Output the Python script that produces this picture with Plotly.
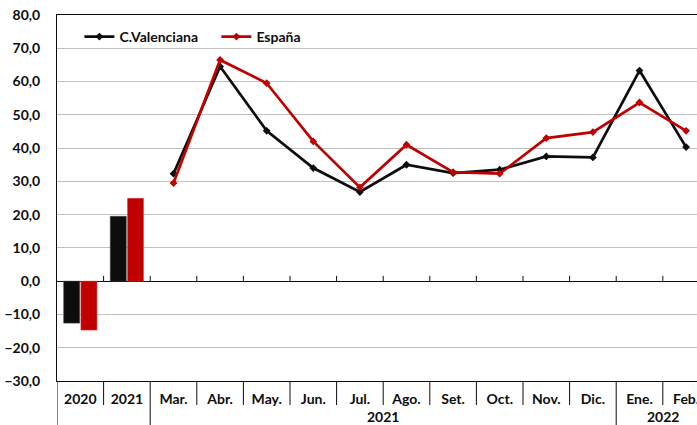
import plotly.graph_objects as go

# ── Data ──────────────────────────────────────────────────────────────────────

CATEGORIES = ["2020", "2021", "Mar.", "Abr.", "May.", "Jun.", "Jul.",
              "Ago.", "Set.", "Oct.", "Nov.", "Dic.", "Ene.", "Feb."]
YEAR_CATS = ["2020", "2021"]
MONTH_CATS = CATEGORIES[2:]

# annual bars
VAL_YEAR = [-12.6, 19.5]
ESP_YEAR = [-14.7, 24.9]

# monthly lines (Mar 2021 - Feb 2022)
VAL_MONTH = [32.3, 64.5, 45.2, 34.0, 26.8, 35.0, 32.5, 33.5, 37.5, 37.2, 63.3, 40.3]
ESP_MONTH = [29.5, 66.5, 59.5, 42.0, 28.2, 41.0, 32.8, 32.3, 43.0, 44.8, 53.7, 45.2]

# second row of the x axis: (label, first index, last index)
GROUPS = [("2021", 2, 11), ("2022", 12, 13)]

# ── Style ─────────────────────────────────────────────────────────────────────

BLACK = "#0d0d0d"
RED = "#c00000"
GRID = "#c0c0c0"
FONT = "Lato"

W, H = 697, 425
M_L, M_R, M_T, M_B = 57, 0, 15, 44
PLOT_H = H - M_T - M_B
CAT_W = 46.6
X_MAX = -0.5 + (W - M_L - M_R) / CAT_W

fig = go.Figure()

fig.add_trace(go.Bar(x=YEAR_CATS, y=VAL_YEAR, name="C.Valenciana",
                     marker=dict(color=BLACK, line=dict(color="#404040", width=0.5)),
                     showlegend=False))
fig.add_trace(go.Bar(x=YEAR_CATS, y=ESP_YEAR, name="España",
                     marker=dict(color=RED, line=dict(color="#e04040", width=0.5)),
                     showlegend=False))

fig.add_trace(go.Scatter(x=MONTH_CATS, y=VAL_MONTH, name="<b>C.Valenciana</b>",
                         mode="lines+markers",
                         line=dict(color=BLACK, width=2.7),
                         marker=dict(symbol="diamond", size=6, color=BLACK)))
fig.add_trace(go.Scatter(x=MONTH_CATS, y=ESP_MONTH, name="<b>España</b>",
                         mode="lines+markers",
                         line=dict(color=RED, width=2.7),
                         marker=dict(symbol="diamond", size=6, color=RED)))

# category separators below the axis, plus small ticks on the zero line
group_edges = {-0.5, 1.5} | {g[2] + 0.5 for g in GROUPS}
shapes = []
for i in range(len(CATEGORIES) + 1):
    xb = i - 0.5
    if xb > X_MAX:
        break
    bottom = -M_B / PLOT_H if xb in group_edges else -24 / PLOT_H
    shapes.append(dict(type="line", xref="x", yref="paper", x0=xb, x1=xb,
                       y0=0, y1=bottom, line=dict(color=BLACK, width=1)))
    if 0 < i < len(CATEGORIES):
        shapes.append(dict(type="line", xref="x", yref="y", x0=xb, x1=xb,
                           y0=0, y1=1.6, line=dict(color=BLACK, width=1)))

annotations = []
for label, a, b in GROUPS:
    annotations.append(dict(x=(a + b) / 2, y=-35 / PLOT_H, xref="x", yref="paper",
                            text=f"<b>{label}</b>", showarrow=False,
                            font=dict(family=FONT, size=14, color=BLACK),
                            xanchor="center", yanchor="middle"))

fig.update_layout(
    width=W, height=H,
    margin=dict(l=M_L, r=M_R, t=M_T, b=M_B, autoexpand=False),
    paper_bgcolor="white", plot_bgcolor="white",
    separators=",.",
    barmode="group", bargap=0.26, bargroupgap=0.07,
    font=dict(family=FONT, size=14, color=BLACK),
    showlegend=True,
    legend=dict(orientation="h", x=0.035, y=1 - 22 / PLOT_H,
                xanchor="left", yanchor="middle",
                font=dict(family=FONT, size=14, color=BLACK),
                bgcolor="rgba(0,0,0,0)", itemwidth=30,
                entrywidthmode="pixels", entrywidth=92),
    shapes=shapes,
    annotations=annotations,
)

fig.update_xaxes(
    type="category", categoryorder="array", categoryarray=CATEGORIES,
    range=[-0.5, X_MAX], automargin=False,
    tickvals=CATEGORIES, ticktext=[f"<b>{c}</b>" for c in CATEGORIES],
    ticks="", showgrid=False, zeroline=False,
    showline=True, linecolor=BLACK, linewidth=1, mirror=True,
    tickfont=dict(family=FONT, size=14, color=BLACK),
    ticklabelstandoff=5,
)
fig.update_yaxes(
    range=[-30, 80], dtick=10, tickformat=".1f", automargin=False,
    showgrid=True, gridcolor=GRID, gridwidth=1,
    zeroline=True, zerolinecolor=BLACK, zerolinewidth=1,
    showline=True, linecolor=BLACK, linewidth=1,
    ticks="", ticklabelstandoff=13,
    tickprefix="<b>", ticksuffix="</b>",
    tickfont=dict(family=FONT, size=14, color=BLACK),
)

# the page's default body margin would shift the figure by 8px
fig.write_html("out.html", config={"displayModeBar": False},
               post_script="document.body.style.margin='0';")
